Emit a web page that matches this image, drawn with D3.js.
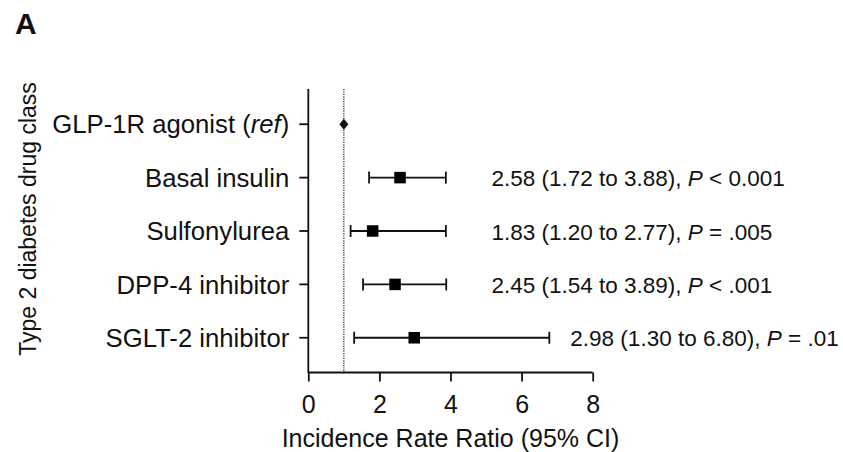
<!DOCTYPE html>
<html><head><meta charset="utf-8">
<script src="https://cdn.jsdelivr.net/npm/d3@7"></script>
<style>
html,body{margin:0;padding:0;background:#fff;}
svg{display:block;font-family:"Liberation Sans",Arial,Helvetica,sans-serif;}
</style></head>
<body><svg id="chart" width="843" height="452"></svg>
<script>
const categories = ["GLP-1R agonist (ref)","Basal insulin","Sulfonylurea","DPP-4 inhibitor","SGLT-2 inhibitor"];
// plotted positions as drawn in the figure
const estimates = [1, 2.58, 1.81, 2.44, 2.98];
const lowerCI = [null, 1.71, 1.19, 1.54, 1.29];
const upperCI = [null, 3.87, 3.87, 3.88, 6.78];
const estLabels = [null, "2.58 (1.72 to 3.88), ", "1.83 (1.20 to 2.77), ", "2.45 (1.54 to 3.89), ", "2.98 (1.30 to 6.80), "];
const pLabels = [null, "< 0.001", "= .005", "< .001", "= .01"];
const xTicks = [0, 2, 4, 6, 8];
const refValue = 1;

const svg = d3.select("#chart");
const x = d3.scaleLinear().domain([0, 8]).range([308.3, 592.7]);
const y = d3.scalePoint().domain(categories).range([89, 373]).padding(0.66);
const ink = "#111";

// panel letter
svg.append("text").attr("x", 15).attr("y", 34).attr("font-size", 30).attr("font-weight", "bold").attr("fill", ink).text("A");

// y axis
const yAxis = svg.append("g").attr("transform", `translate(${x(0)},0)`);
yAxis.append("line").attr("x1", 0).attr("x2", 0).attr("y1", 89).attr("y2", 373).attr("stroke", ink).attr("stroke-width", 1.8);
categories.forEach((c, i) => {
  const g = yAxis.append("g").attr("transform", `translate(0,${y(c)})`);
  g.append("line").attr("x1", -9).attr("x2", 0).attr("stroke", ink).attr("stroke-width", 1.8);
  const t = g.append("text").attr("x", -19).attr("dy", "0.36em").attr("text-anchor", "end").attr("font-size", 25.7).attr("fill", ink);
  if (i === 0) {
    t.append("tspan").text("GLP-1R agonist (");
    t.append("tspan").attr("font-style", "italic").text("ref");
    t.append("tspan").text(")");
  } else {
    t.text(c);
  }
});

// x axis
const xAxis = d3.axisBottom(x).tickValues(xTicks).tickSize(9).tickPadding(14).tickFormat(d3.format("d"));
const xg = svg.append("g").attr("transform", "translate(0,372.5)").call(xAxis);
xg.select(".domain").attr("stroke", ink).attr("stroke-width", 1.8).attr("d", `M${x(0)},0H${x(8)}`);
xg.selectAll(".tick line").attr("stroke", ink).attr("stroke-width", 1.8);
xg.selectAll(".tick text").attr("font-size", 25).attr("font-family", "Liberation Sans, Arial, sans-serif").attr("fill", ink);

// axis titles
svg.append("text").attr("x", x(4)).attr("y", 447).attr("text-anchor", "middle").attr("font-size", 25).attr("fill", ink).text("Incidence Rate Ratio (95% CI)");
svg.append("text").attr("transform", "translate(36,219) rotate(-90)").attr("text-anchor", "middle").attr("font-size", 23).attr("fill", ink).text("Type 2 diabetes drug class");

// reference line
svg.append("line").attr("x1", x(refValue)).attr("x2", x(refValue)).attr("y1", 89).attr("y2", 372)
  .attr("stroke", "#222").attr("stroke-width", 1.2).attr("stroke-dasharray", "1.2,1.2");

// marks
categories.forEach((c, i) => {
  const cy = y(c);
  if (lowerCI[i] === null) {
    const s = 5.5;
    const cx = x(estimates[i]);
    svg.append("path").attr("d", `M${cx},${cy - s}L${cx + s - 1},${cy}L${cx},${cy + s}L${cx - s + 1},${cy}Z`).attr("fill", ink);
    return;
  }
  const x1 = x(lowerCI[i]), x2 = x(upperCI[i]);
  svg.append("line").attr("x1", x1).attr("x2", x2).attr("y1", cy).attr("y2", cy).attr("stroke", ink).attr("stroke-width", 1.8);
  [x1, x2].forEach(xx => svg.append("line").attr("x1", xx).attr("x2", xx).attr("y1", cy - 6).attr("y2", cy + 6).attr("stroke", ink).attr("stroke-width", 1.8));
  const sq = 11.5;
  svg.append("rect").attr("x", x(estimates[i]) - sq / 2).attr("y", cy - sq / 2).attr("width", sq).attr("height", sq).attr("fill", "#000");
  const tx = Math.max(x(5.15), x2 + 21);
  const t = svg.append("text").attr("x", tx).attr("y", cy).attr("dy", "0.38em").attr("font-size", 22.5).attr("fill", ink);
  t.append("tspan").text(estLabels[i]);
  t.append("tspan").attr("font-style", "italic").text("P");
  t.append("tspan").text(" " + pLabels[i]);
});
</script></body></html>
